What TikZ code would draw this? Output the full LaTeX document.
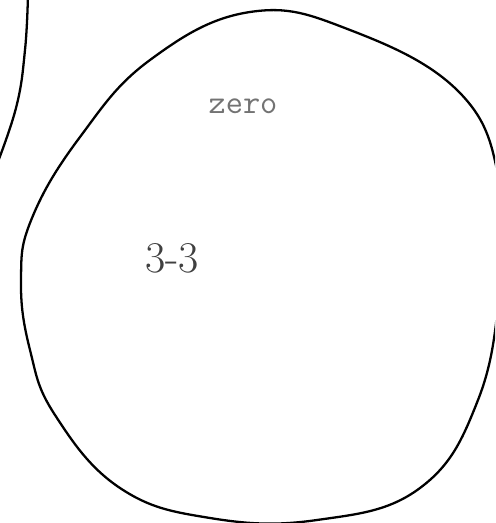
\documentclass[tikz,border=0pt]{standalone}
\usepackage{tikz}
\usetikzlibrary{calc,positioning}
\tikzset{
  outline/.style={line width=1.3pt, black},
  labeltext/.style={inner sep=0pt, text=black!55},
}
\begin{document}
\begin{tikzpicture}[x=0.02cm,y=-0.02cm]
            \useasboundingbox (0,0) rectangle (495,523);
            \clip (0,0) rectangle (495,523);
            % Left curve
            \draw[outline] plot[smooth, tension=0.7] coordinates
            {(28,-6) (25,50) (16,108) (-6,172)};
            % Blob
            \draw[outline] plot[smooth cycle, tension=0.7] coordinates
            {(21,280) (32,218) (80,137) (150,60) (250,12) (350,30)
             (460,93) (500,185) (500,285) (478,400) (420,488) (317,520)
             (210,518) (120,488) (55,415) (30,350)};
            % Label the blob
            \node[labeltext] (zero) at (243,106) {\ttfamily\fontsize{19}{19}\selectfont zero};
            \node[labeltext, text=black!75] (diff) at (172,258) {\fontsize{25}{25}\selectfont 3-3};
\end{tikzpicture}
\end{document}
